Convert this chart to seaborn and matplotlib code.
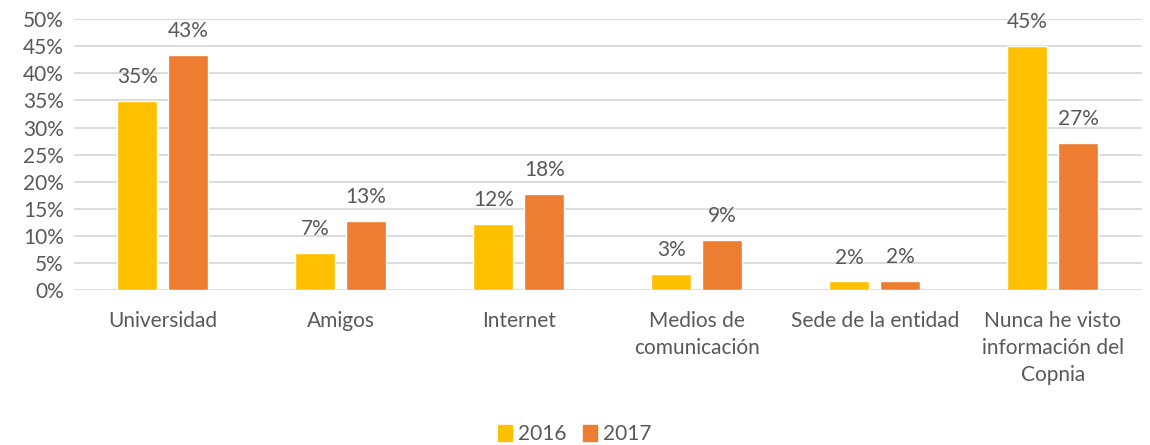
import pandas as pd
import matplotlib.pyplot as plt
import matplotlib.patches as mpatches
import seaborn as sns
from matplotlib.ticker import MultipleLocator, FuncFormatter

# Data
categories = ['Universidad', 'Amigos', 'Internet', 'Medios de\ncomunicación',
              'Sede de la entidad', 'Nunca he visto\ninformación del\nCopnia']
years = ['2016', '2017']
vals_2016 = [0.349, 0.069, 0.122, 0.030, 0.016, 0.450]
vals_2017 = [0.434, 0.128, 0.178, 0.093, 0.017, 0.272]
colors = {'2016': '#FFC000', '2017': '#ED7D31'}

df = pd.DataFrame({
    'categoria': categories * 2,
    'valor': vals_2016 + vals_2017,
    'anio': ['2016'] * len(categories) + ['2017'] * len(categories),
})

sns.set_theme(style="white")
plt.rcParams['font.family'] = ['Lato', 'DejaVu Sans']
text_color = '#595959'
fs = 15

fig = plt.figure(figsize=(11.5, 4.45), dpi=100)
ax = fig.add_axes([0.064, 0.348, 0.929, 0.609])

sns.barplot(data=df, x='categoria', y='valor', hue='anio', hue_order=years,
            palette=colors, width=0.573, gap=0.216, saturation=1,
            legend=False, ax=ax)

ax.set_ylim(0, 0.5)
ax.yaxis.set_major_locator(MultipleLocator(0.05))
ax.yaxis.set_major_formatter(FuncFormatter(lambda v, p: f"{v*100:.0f}%"))
ax.grid(axis='y', color='#D9D9D9', linewidth=1.3)
ax.set_axisbelow(True)
for s in ax.spines.values():
    s.set_visible(False)
ax.set_xlabel('')
ax.set_ylabel('')
ax.tick_params(axis='y', labelsize=fs, labelcolor=text_color, length=0, pad=7)
ax.tick_params(axis='x', labelsize=fs, labelcolor=text_color, length=0, pad=15)
for lab in ax.get_xticklabels():
    lab.set_linespacing(1.45)

for cont, vals in zip(ax.containers, [vals_2016, vals_2017]):
    ax.bar_label(cont, labels=[f"{round(v*100)}%" for v in vals],
                 padding=10, fontsize=fs, color=text_color)

handles = [mpatches.Patch(color=colors[y], label=y) for y in years]
fig.legend(handles=handles, loc='lower center', ncol=2, frameon=False,
           bbox_to_anchor=(0.5, -0.04), fontsize=fs, labelcolor=text_color,
           handlelength=0.65, handleheight=0.85, handletextpad=0.3, columnspacing=0.8)

fig.savefig('out.png', dpi=100)
